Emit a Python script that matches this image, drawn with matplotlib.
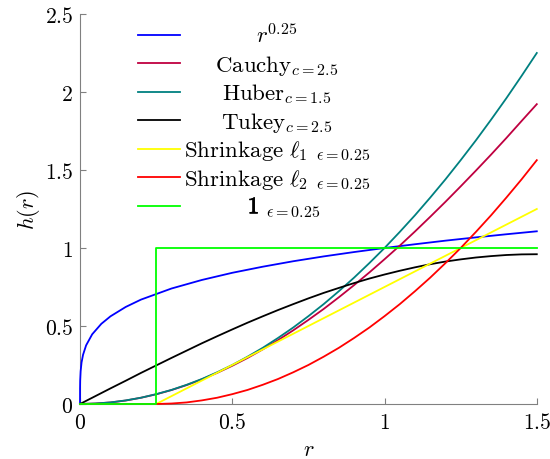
import matplotlib
matplotlib.use("Agg")
from matplotlib import pyplot as plt
from matplotlib import patheffects

plt.rcParams['mathtext.fontset'] = 'cm'
plt.rcParams['font.family'] = ['DejaVu Serif']

# data
r_grid = [0.0, 0.05, 0.1, 0.15, 0.2, 0.25, 0.3, 0.35, 0.4, 0.45, 0.5, 0.55, 0.6, 0.65, 0.7, 0.75,
          0.8, 0.85, 0.9, 0.95, 1.0, 1.05, 1.1, 1.15, 1.2, 1.25, 1.3, 1.35, 1.4, 1.45, 1.5]
r_pow = [0.0, 0.0001, 0.0005, 0.002, 0.005, 0.01, 0.02, 0.04, 0.07, 0.1, 0.15, 0.2, 0.3, 0.4,
         0.5, 0.6, 0.7, 0.8, 0.9, 1.0, 1.1, 1.2, 1.3, 1.4, 1.5]
h_pow = [0.0, 0.10, 0.15, 0.21, 0.266, 0.316, 0.376, 0.447, 0.514, 0.562, 0.622, 0.669, 0.740, 0.795,
         0.841, 0.880, 0.915, 0.946, 0.974, 1.0, 1.024, 1.047, 1.068, 1.088, 1.107]
h_cauchy = [0.0, 0.003, 0.01, 0.022, 0.04, 0.062, 0.089, 0.121, 0.158, 0.199, 0.245, 0.295,
            0.350, 0.409, 0.472, 0.539, 0.609, 0.684, 0.762, 0.843, 0.928, 1.015, 1.106,
            1.200, 1.296, 1.395, 1.496, 1.599, 1.705, 1.814, 1.922]
h_huber = [0.0, 0.003, 0.01, 0.023, 0.04, 0.063, 0.09, 0.123, 0.16, 0.203, 0.25, 0.303,
           0.36, 0.423, 0.49, 0.563, 0.64, 0.723, 0.81, 0.903, 1.0, 1.103, 1.21,
           1.323, 1.44, 1.563, 1.69, 1.823, 1.96, 2.103, 2.25]
h_tukey = [0.0, 0.050, 0.100, 0.149, 0.199, 0.247, 0.295, 0.342, 0.389, 0.434, 0.478, 0.521,
           0.562, 0.602, 0.640, 0.677, 0.712, 0.744, 0.775, 0.804, 0.830, 0.854, 0.876,
           0.896, 0.913, 0.927, 0.939, 0.948, 0.955, 0.959, 0.960]
r_l1 = [0.0, 0.25, 0.5, 0.75, 1.0, 1.25, 1.5]
h_l1 = [0.0, 0.0, 0.25, 0.5, 0.75, 1.0, 1.25]
h_l2 = [0.0, 0.0, 0.0, 0.0, 0.0, 0.0, 0.003, 0.01, 0.023, 0.04, 0.063, 0.09, 0.123, 0.16,
        0.203, 0.25, 0.303, 0.36, 0.423, 0.49, 0.563, 0.64, 0.723, 0.81, 0.903, 1.0,
        1.103, 1.21, 1.323, 1.44, 1.563]
r_ind = [0.0, 0.25, 0.25, 1.5]
h_ind = [0.0, 0.0, 1.0, 1.0]

labels = [r'$r^{0.25}$',
          r'$\mathrm{Cauchy}_{c=2.5}$',
          r'$\mathrm{Huber}_{c=1.5}$',
          r'$\mathrm{Tukey}_{c=2.5}$',
          r'$\mathrm{Shrinkage}\ \ell_1\ {}_{\epsilon=0.25}$',
          r'$\mathrm{Shrinkage}\ \ell_2\ {}_{\epsilon=0.25}$',
          (r'$\mathbf{1}$', r'${}_{\epsilon=0.25}$')]
colors = ['#0000ff', '#bf0040', '#008080', '#000000', '#ffff00', '#ff0000', '#00ff00']
series = [(r_pow, h_pow), (r_grid, h_cauchy), (r_grid, h_huber), (r_grid, h_tukey),
          (r_l1, h_l1), (r_grid, h_l2), (r_ind, h_ind)]

xticks = [0, 0.5, 1, 1.5]
xtick_labels = ['0', '0.5', '1', '1.5']
yticks = [0, 0.5, 1, 1.5, 2, 2.5]
ytick_labels = ['0', '0.5', '1', '1.5', '2', '2.5']

fig = plt.figure(figsize=(5.5, 4.6), dpi=100)
ax = fig.add_axes([0.1455, 0.1196, 0.8305, 0.8478])

for (xs, ys), c in zip(series, colors):
    ax.plot(xs, ys, color=c, lw=1.3, clip_on=False, zorder=3)

ax.set_xlim(0, 1.5)
ax.set_ylim(0, 2.5)
ax.set_xticks(xticks, labels=['$' + t + '$' for t in xtick_labels])
ax.set_yticks(yticks, labels=['$' + t + '$' for t in ytick_labels])
ax.tick_params(direction='in', length=4, width=0.8, color='#808080', labelsize=15.5, pad=5)
ax.spines['top'].set_visible(False)
ax.spines['right'].set_visible(False)
for s in ['left', 'bottom']:
    ax.spines[s].set_color('#808080')
    ax.spines[s].set_linewidth(0.8)
ax.set_xlabel('$r$', fontsize=16, labelpad=4)
ax.set_ylabel('$h(r)$', fontsize=16, labelpad=2)

# legend, pgfplots style (centered entries, no frame)
y0 = 0.947
dy = 0.0732
for i, (lab, c) in enumerate(zip(labels, colors)):
    y = y0 - i * dy
    ax.plot([0.127, 0.219], [y, y], color=c, lw=1.3, transform=ax.transAxes, clip_on=False)
    if isinstance(lab, tuple):
        # bold "1" with its subscript, drawn in two pieces so only the 1 is heavy
        ax.text(0.393, y - 0.019, lab[0], fontsize=17, ha='right', va='baseline',
                transform=ax.transAxes,
                path_effects=[patheffects.withStroke(linewidth=0.6, foreground='black')])
        ax.text(0.405, y - 0.019, lab[1], fontsize=16.5, ha='left', va='baseline',
                transform=ax.transAxes)
    else:
        ax.text(0.431, y - 0.019, lab, fontsize=16.5, ha='center', va='baseline',
                transform=ax.transAxes)

plt.savefig('out.png', dpi=100)
